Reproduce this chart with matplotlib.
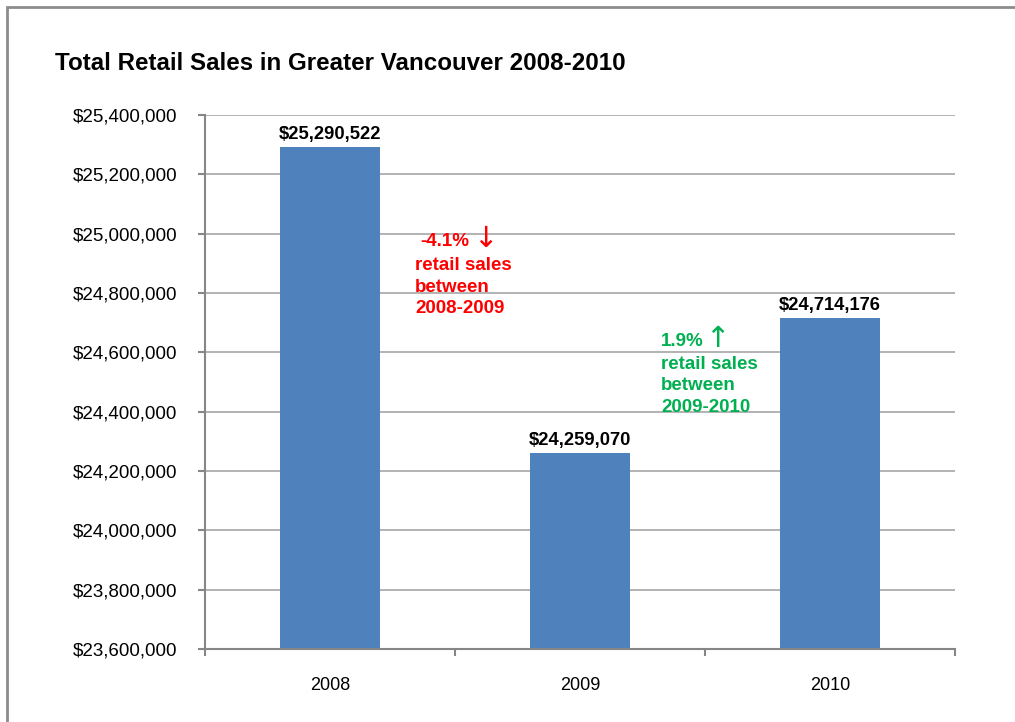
import matplotlib.pyplot as plt
from matplotlib.patches import Rectangle
from matplotlib.ticker import FuncFormatter

plt.rcParams['font.family'] = ['Liberation Sans', 'DejaVu Sans']

# Sales data (dollars)
years = ["2008", "2009", "2010"]
sales = [25290522, 24259070, 24714176]

BAR_COLOR = "#4F81BD"
GRID_COLOR = "#A6A6A6"
AXIS_COLOR = "#868686"

fig = plt.figure(figsize=(10.15, 7.22), dpi=100)
fig.patch.set_facecolor("white")

# Outer chart frame (runs off the right and bottom edges)
fig.patches.append(Rectangle((7 / 1015, -0.05), 1.1, (722 - 6.5) / 722 + 0.05,
                             transform=fig.transFigure, fill=False,
                             edgecolor="#8C8C8C", linewidth=2))

ax = fig.add_axes([205 / 1015, 1 - 649 / 722, 750 / 1015, 534 / 722])

x = list(range(len(years)))
ax.bar(x, sales, width=0.4, color=BAR_COLOR, zorder=3)

ax.set_ylim(23600000, 25400000)
ax.set_xlim(-0.5, 2.5)
ax.set_yticks(range(23600000, 25400001, 200000))
ax.yaxis.set_major_formatter(FuncFormatter(lambda v, p: f"${v:,.0f}"))

ax.set_xticks(x)
ax.set_xticklabels(years)
ax.set_xticks([-0.5, 0.5, 1.5, 2.5], minor=True)
ax.tick_params(axis="x", which="major", length=0, pad=20, labelsize=13)
ax.tick_params(axis="x", which="minor", length=5, color=AXIS_COLOR, width=1.5)
ax.tick_params(axis="y", length=5, color=AXIS_COLOR, width=1.5, labelsize=13.5, pad=15)

ax.yaxis.grid(True, color=GRID_COLOR, linewidth=1.2, zorder=0)
for side in ["top", "right"]:
    ax.spines[side].set_visible(False)
for side in ["left", "bottom"]:
    ax.spines[side].set_color(AXIS_COLOR)
    ax.spines[side].set_linewidth(1.5)
ax.spines["bottom"].set_zorder(4)

# Value labels above bars
for xi, val in zip(x, sales):
    ax.annotate(f"${val:,.0f}", xy=(xi, val), xytext=(0, 3),
                textcoords="offset points", ha="center", va="bottom",
                fontsize=13.2, fontweight="bold")

fig.text(55 / 1015, 1 - 63 / 722, "Total Retail Sales in Greater Vancouver 2008-2010",
         fontsize=17.4, fontweight="bold", va="center", ha="left")

# Change annotations
red = "#FF0000"
green = "#00B050"
fig.text(420 / 1015, 1 - 241 / 722, "-4.1%", color=red, fontsize=13.5,
         fontweight="bold", va="center")
fig.text(473 / 1015, 1 - 239 / 722, "\u2193", color=red, fontsize=21,
         va="center", family="DejaVu Sans")
fig.text(415 / 1015, 1 - 287 / 722, "retail sales\nbetween\n2008-2009", color=red,
         fontsize=13.5, fontweight="bold", va="center", linespacing=1.33)
fig.text(661 / 1015, 1 - 341 / 722, "1.9%", color=green, fontsize=13.5,
         fontweight="bold", va="center")
fig.text(705 / 1015, 1 - 339 / 722, "\u2191", color=green, fontsize=21,
         va="center", family="DejaVu Sans")
fig.text(661 / 1015, 1 - 386 / 722, "retail sales\nbetween\n2009-2010", color=green,
         fontsize=13.5, fontweight="bold", va="center", linespacing=1.33)

fig.savefig("out.png", dpi=100, facecolor="white")
